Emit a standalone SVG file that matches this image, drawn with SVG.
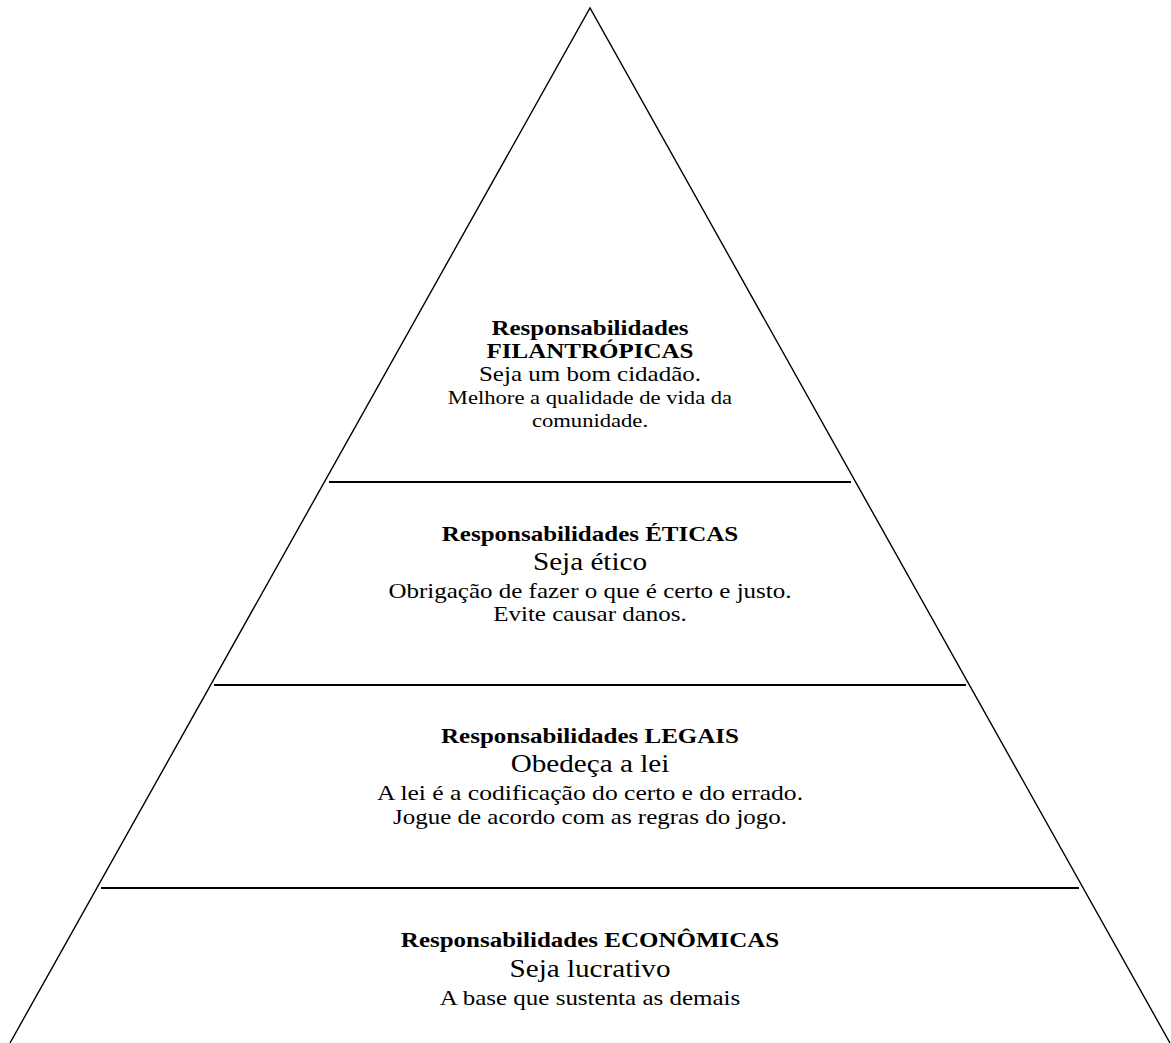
<svg xmlns="http://www.w3.org/2000/svg" width="1171" height="1043" viewBox="0 0 1171 1043">
<style>
text{font-family:"Liberation Serif","Times New Roman",serif;fill:#000;text-anchor:middle}
.t{font-weight:bold;font-size:21px}
.b{font-size:24.5px}
.s{font-size:21px}
.m{font-size:19px}
.side{fill:none;stroke:#000;stroke-width:1.4}
.sep{stroke:#000;stroke-width:2}
</style>
<rect width="1171" height="1043" fill="#fff"/>
<g id="pyramid">
<polyline class="side" points="10,1043 590,8 1170,1043"/>
<line class="sep" x1="329" y1="482" x2="851" y2="482"/>
<line class="sep" x1="214" y1="685" x2="966" y2="685"/>
<line class="sep" x1="101" y1="888" x2="1079" y2="888"/>
</g>
<g id="filantropicas" transform="translate(590 0) scale(1.19 1)">
<text class="t" x="0" y="335">Responsabilidades</text>
<text class="t" x="0" y="358">FILANTRÓPICAS</text>
<text class="s" x="0" y="381">Seja um bom cidadão.</text>
<text class="m" x="0" y="404">Melhore a qualidade de vida da</text>
<text class="m" x="0" y="427">comunidade.</text>
</g>
<g id="eticas" transform="translate(590 0) scale(1.19 1)">
<text class="t" x="0" y="541">Responsabilidades ÉTICAS</text>
<text class="b" x="0" y="570">Seja ético</text>
<text class="s" x="0" y="598">Obrigação de fazer o que é certo e justo.</text>
<text class="s" x="0" y="621">Evite causar danos.</text>
</g>
<g id="legais" transform="translate(590 0) scale(1.19 1)">
<text class="t" x="0" y="743">Responsabilidades LEGAIS</text>
<text class="b" x="0" y="772">Obedeça a lei</text>
<text class="s" x="0" y="800" style="font-size:21.5px">A lei é a codificação do certo e do errado.</text>
<text class="s" x="0" y="824">Jogue de acordo com as regras do jogo.</text>
</g>
<g id="economicas" transform="translate(590 0) scale(1.19 1)">
<text class="t" x="0" y="947">Responsabilidades ECONÔMICAS</text>
<text class="b" x="0" y="977">Seja lucrativo</text>
<text class="s" x="0" y="1005">A base que sustenta as demais</text>
</g>
<g id="connectors"/>
</svg>
